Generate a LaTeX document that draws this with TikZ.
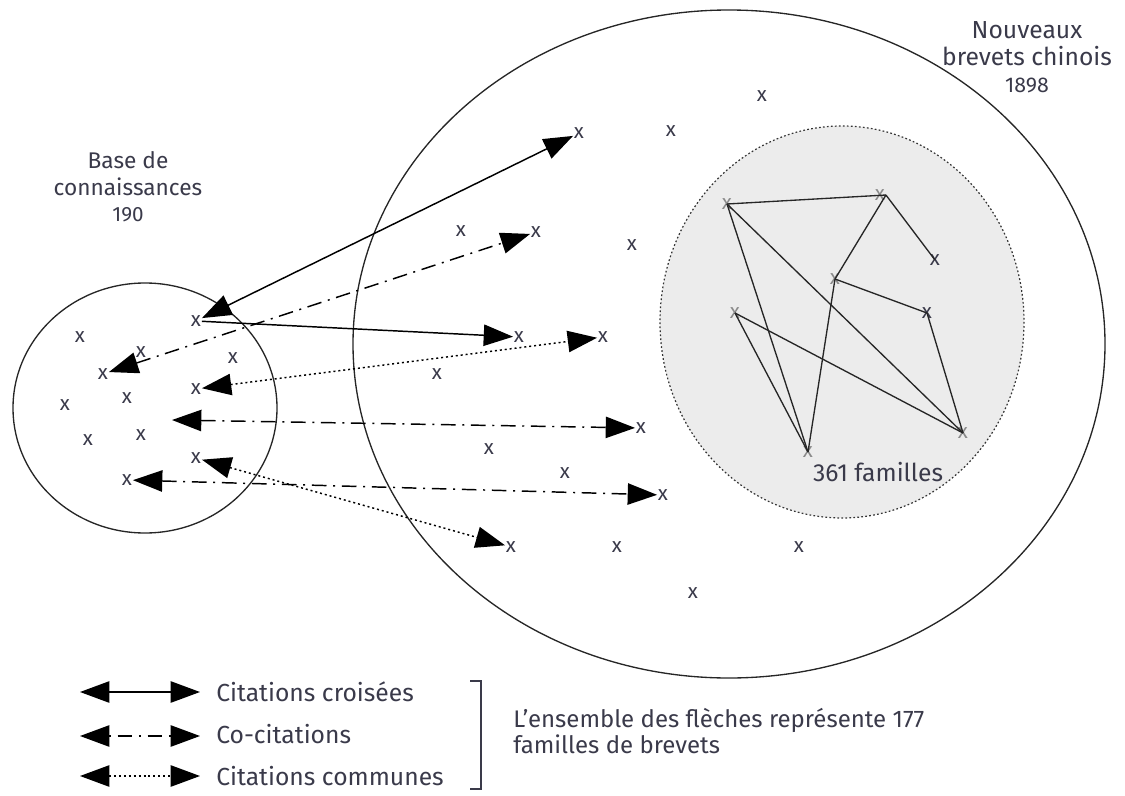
\documentclass[tikz,border=0pt]{standalone}
\usepackage{fontspec}
\setmainfont{Fira Sans}
\usetikzlibrary{arrows.meta}
\definecolor{txt}{HTML}{3A3A4A}
\definecolor{zone}{HTML}{ECECEC}
\definecolor{lx}{HTML}{8A8A8A}
\begin{document}
\begin{tikzpicture}[x=0.75pt,y=-0.75pt,
  lbl/.style={font=\fontsize{18.5}{20.3}\selectfont, text=txt, align=center, inner sep=0pt},
  xm/.style={inner sep=0.5pt, font=\fontsize{15.5}{15.5}\selectfont, text=txt},
  gx/.style={xm, text=lx},
  tipA/.tip={Triangle[length=22pt,width=16pt]},
  solidarr/.style={line width=1.1pt, draw=black},
  coarr/.style={line width=1.1pt, draw=black, dash pattern=on 11pt off 5pt on 1.5pt off 5pt},
  dotarr/.style={line width=1.1pt, draw=black, dash pattern=on 1.5pt off 2.2pt},
  rim/.style={line width=1pt, draw=black!85},
  link/.style={line width=1pt, draw=black!85}
]
\useasboundingbox (0,0) rectangle (1125,796);

% circles
\draw[rim] (145,408) ellipse [x radius=132, y radius=125];
\draw[rim] (729,344) ellipse [x radius=376, y radius=334];
\draw[fill=zone, draw=black!80, line width=0.9pt, dash pattern=on 1.3pt off 1.7pt] (842,322) ellipse [x radius=182, y radius=196];

% titles
\node[lbl, font=\fontsize{17}{19.8}\selectfont] (tbase) at (128,187) {Base de\\connaissances\\{\fontsize{15.5}{18}\selectfont 190}};
\node[lbl] (tnew) at (1027,57) {Nouveaux\\brevets chinois\\{\fontsize{16}{18}\selectfont 1898}};
\node[lbl] (tfam) at (878,472) {361 familles};

% left circle marks
\node[xm] (L1) at (80,337) {x};
\node[xm] (L2) at (196,321) {x};
\node[xm] (L3) at (141,352) {x};
\node[xm] (L4) at (233,358) {x};
\node[xm] (L5) at (103,374) {x};
\node[xm] (L6) at (127,398) {x};
\node[xm] (L7) at (196,389) {x};
\node[xm] (L8) at (65,405) {x};
\node[xm] (L9) at (88,440) {x};
\node[xm] (L10) at (141,435) {x};
\node[xm] (L11) at (196,458) {x};
\node[xm] (L12) at (127,480) {x};

% big circle marks
\node[xm] (B1) at (762,96) {x};
\node[xm] (B2) at (579,133) {x};
\node[xm] (B3) at (671,131) {x};
\node[xm] (B4) at (461,231) {x};
\node[xm] (B5) at (536,232) {x};
\node[xm] (B6) at (632,245) {x};
\node[xm] (B7) at (519,337) {x};
\node[xm] (B8) at (603,337) {x};
\node[xm] (B9) at (437,374) {x};
\node[xm] (B10) at (641,428) {x};
\node[xm] (B11) at (489,449) {x};
\node[xm] (B12) at (565,473) {x};
\node[xm] (B13) at (663,495) {x};
\node[xm] (B14) at (511,547) {x};
\node[xm] (B15) at (617,547) {x};
\node[xm] (B16) at (799,547) {x};
\node[xm] (B17) at (693,593) {x};

% grey zone marks
\node[gx] (G1) at (727,204) {x};
\node[gx] (G2) at (880,195) {x};
\node[xm] (G3) at (935,260) {x};
\node[gx] (G4) at (835,279) {x};
\node[xm] (G5) at (927,313) {x};
\node[gx] (G6) at (735,313) {x};
\node[gx] (G7) at (808,452) {x};
\node[gx] (G8) at (963,433) {x};

% links inside grey zone
\draw[link] (G1.center) -- (G2.east);
\draw[link] (G2.east) -- (G3.center);
\draw[link] (G2.east) -- (G4.center);
\draw[link] (G4.center) -- (G7.center);
\draw[link] (G4.center) -- (G5.center);
\draw[link] (G5.center) -- (G8.center);
\draw[link] (G1.center) -- (G7.center);
\draw[link] (G1.center) -- (G8.center);
\draw[link] (G6.center) -- (G7.center);
\draw[link] (G6.center) -- (G8.center);

% arrows
\coordinate (c5) at (172,420);
\draw[solidarr, {tipA}-{tipA}] (L2) -- (B2);
\draw[solidarr, -{tipA}] (L2) -- (B7);
\draw[coarr, {tipA}-{tipA}] (L5) -- (B5);
\draw[dotarr, {tipA}-{tipA}] (L7) -- (B8);
\draw[coarr, {tipA}-{tipA}] (c5) -- (B10);
\draw[dotarr, {tipA}-{tipA}] (L11) -- (B14);
\draw[coarr, {tipA}-{tipA}] (L12) -- (B13);

% legend
\coordinate (a1l) at (80,692); \coordinate (a1r) at (200,692);
\coordinate (a2l) at (80,736); \coordinate (a2r) at (200,736);
\coordinate (a3l) at (80,776); \coordinate (a3r) at (200,776);
\draw[solidarr, {tipA}-{tipA}] (a1l) -- (a1r);
\draw[coarr, dash pattern=on 1.5pt off 5pt on 11pt off 5pt, {tipA}-{tipA}] (a2l) -- (a2r);
\draw[dotarr, {tipA}-{tipA}] (a3l) -- (a3r);
\node[lbl, anchor=west] (k1) at (216,692) {Citations croisées};
\node[lbl, anchor=west] (k2) at (216,734) {Co-citations};
\node[lbl, anchor=west] (k3) at (216,776) {Citations communes};
\draw[line width=1.2pt, draw=txt] (470,681) -- (481,681) -- (481,789) -- (470,789);
\node[lbl, anchor=north west, align=left, font=\fontsize{18}{19.5}\selectfont] (note) at (513,708) {L’ensemble des flèches représente 177\\familles de brevets};
\end{tikzpicture}
\end{document}
